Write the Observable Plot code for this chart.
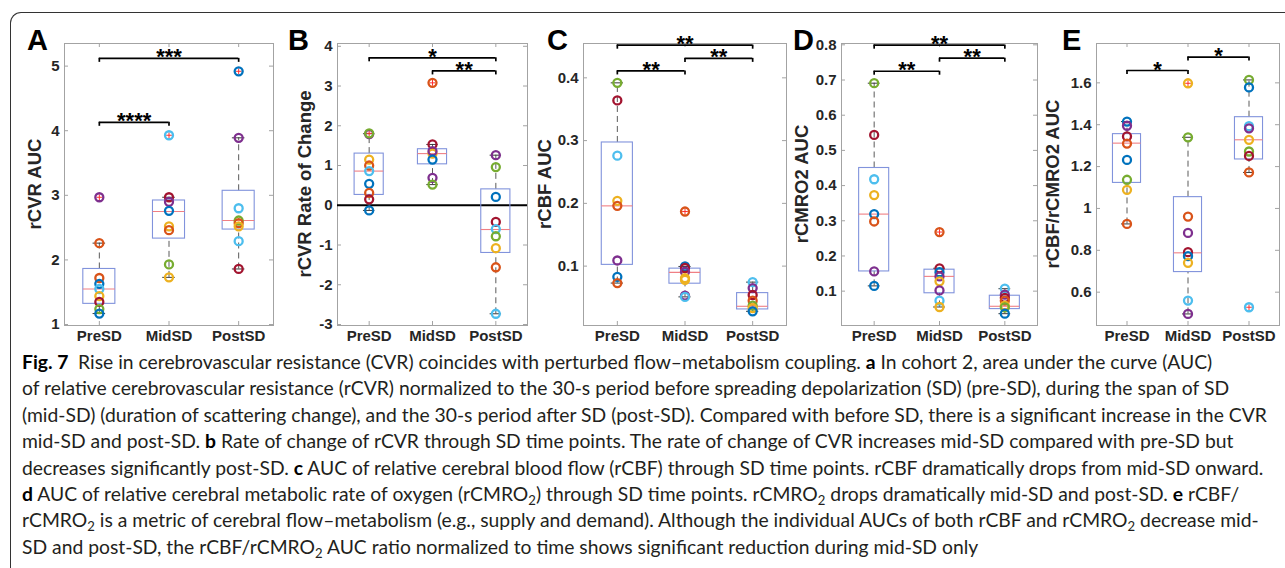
<!DOCTYPE html>
<html>
<head>
<meta charset="utf-8">
<script src="https://cdn.jsdelivr.net/npm/d3@7"></script>
<script src="https://cdn.jsdelivr.net/npm/@observablehq/plot@0.6"></script>
<style>
  html, body { margin: 0; padding: 0; background: #fff; }
  #root { position: relative; width: 1285px; height: 568px; overflow: hidden; background: #fff; }
  .border { position: absolute; left: 10px; top: 12px; width: 1400px; height: 700px;
            border-left: 1.4px solid #333; border-top: 1.4px solid #333; border-top-left-radius: 11px; }
  .panel { position: absolute; top: 0; }
  .letter { position: absolute; font: bold 29px "Liberation Sans", Arial, sans-serif; line-height: 29px; color: #000; }
  .ylab { position: absolute; font: bold 18.5px "Liberation Sans", Arial, sans-serif; white-space: nowrap;
          transform: translate(-50%, -50%) rotate(-90deg); color: #262626; line-height: 1; }
  #caption { position: absolute; left: 22px; top: 349px; font-family: Lato, "Open Sans", sans-serif;
             font-size: 17px; line-height: 26.4px; color: #231f20; white-space: nowrap; }
  #caption b { color: #000; }
  #caption sub { font-size: 0.68em; vertical-align: -0.28em; line-height: 0; }
</style>
</head>
<body>
<div id="root">
  <div class="border"></div>
  <div id="caption"></div>
</div>
<script>
// ---------- shared categories / tick labels ----------
const groups = ["PreSD", "MidSD", "PostSD"];
// subject colour keys (MATLAB default colour order)
const colorKeys = ["bl", "or", "ye", "pu", "gr", "cy", "dr"];
const colorHex = ["#0072BD", "#D95319", "#EDB120", "#7E2F8E", "#77AC30", "#4DBEEE", "#A2142F"];

// ---------- A: rCVR AUC ----------
const rcvrAucValues = [
  [2.97, 2.26, 1.72, 1.63, 1.55, 1.44, 1.35, 1.24, 1.17],
  [3.93, 2.97, 2.90, 2.76, 2.52, 2.46, 1.93, 1.73],
  [4.92, 3.89, 2.80, 2.61, 2.57, 2.52, 2.29, 1.86]
];
const rcvrAucColors = [
  ["pu", "or", "or", "bl", "cy", "ye", "dr", "gr", "bl"],
  ["cy", "dr", "pu", "bl", "ye", "or", "gr", "ye"],
  ["bl", "pu", "cy", "gr", "or", "ye", "cy", "dr"]
];
// [lower whisker, q1, median, q3, upper whisker]
const rcvrAucBox = [
  [1.17, 1.32, 1.55, 1.86, 2.26],
  [1.73, 2.33, 2.75, 2.92, 2.97],
  [1.86, 2.47, 2.61, 3.07, 3.89]
];
const rcvrAucSig = [[1, 2, 4.13, "****"], [1, 3, 5.12, "***"]];
const rcvrAucTicks = [1, 2, 3, 4, 5];

// ---------- B: rCVR Rate of Change ----------
const rcvrRateValues = [
  [1.79, 1.81, 1.15, 1.00, 0.86, 0.54, 0.31, 0.15, -0.13],
  [3.08, 1.53, 1.30, 1.36, 1.15, 0.69, 0.52],
  [1.26, 0.96, 0.21, -0.42, -0.60, -0.78, -1.08, -1.56, -2.73]
];
const rcvrRateColors = [
  ["pu", "gr", "ye", "or", "cy", "bl", "or", "dr", "bl"],
  ["or", "dr", "ye", "pu", "bl", "pu", "gr"],
  ["pu", "gr", "bl", "dr", "cy", "gr", "ye", "or", "cy"]
];
const rcvrRateBox = [
  [-0.13, 0.26, 0.86, 1.30, 1.80],
  [0.52, 1.03, 1.30, 1.41, 1.53],
  [-2.73, -1.20, -0.61, 0.40, 1.26]
];
const rcvrRateSig = [[1, 3, 3.71, "*"], [2, 3, 3.38, "**"]];
const rcvrRateTicks = [-3, -2, -1, 0, 1, 2, 3, 4];

// ---------- C: rCBF AUC ----------
const rcbfValues = [
  [0.392, 0.364, 0.276, 0.204, 0.196, 0.109, 0.083, 0.073],
  [0.187, 0.0995, 0.097, 0.091, 0.081, 0.078, 0.053, 0.051],
  [0.0745, 0.065, 0.054, 0.045, 0.037, 0.033, 0.028]
];
const rcbfColors = [
  ["gr", "dr", "cy", "ye", "or", "pu", "bl", "or"],
  ["or", "bl", "dr", "pu", "ye", "ye", "pu", "cy"],
  ["cy", "pu", "dr", "or", "gr", "ye", "bl"]
];
const rcbfBox = [
  [0.073, 0.102, 0.196, 0.297, 0.392],
  [0.051, 0.072, 0.090, 0.096, 0.0995],
  [0.028, 0.031, 0.036, 0.057, 0.0745]
];
const rcbfSig = [[1, 3, 0.452, "**"], [2, 3, 0.431, "**"], [1, 2, 0.411, "**"]];
const rcbfTicks = [0.1, 0.2, 0.3, 0.4];

// ---------- D: rCMRO2 AUC ----------
const rcmroValues = [
  [0.691, 0.544, 0.418, 0.373, 0.319, 0.298, 0.156, 0.115],
  [0.268, 0.165, 0.154, 0.142, 0.128, 0.102, 0.073, 0.055],
  [0.107, 0.090, 0.081, 0.073, 0.059, 0.054, 0.036]
];
const rcmroColors = [
  ["gr", "dr", "cy", "ye", "bl", "or", "pu", "bl"],
  ["or", "dr", "bl", "pu", "ye", "pu", "cy", "ye"],
  ["cy", "pu", "dr", "or", "ye", "gr", "bl"]
];
const rcmroBox = [
  [0.115, 0.156, 0.319, 0.450, 0.691],
  [0.055, 0.094, 0.142, 0.161, 0.165],
  [0.036, 0.049, 0.057, 0.087, 0.107]
];
const rcmroSig = [[1, 3, 0.799, "**"], [2, 3, 0.762, "**"], [1, 2, 0.725, "**"]];
const rcmroTicks = [0.1, 0.2, 0.3, 0.4, 0.5, 0.6, 0.7, 0.8];

// ---------- E: rCBF/rCMRO2 AUC ----------
const ratioValues = [
  [1.415, 1.395, 1.344, 1.310, 1.232, 1.137, 1.089, 0.926],
  [1.598, 1.340, 0.961, 0.883, 0.791, 0.772, 0.740, 0.560, 0.496],
  [1.614, 1.578, 1.393, 1.383, 1.328, 1.272, 1.251, 1.172, 0.528]
];
const ratioColors = [
  ["bl", "pu", "dr", "or", "bl", "gr", "ye", "or"],
  ["ye", "gr", "or", "pu", "dr", "bl", "ye", "cy", "pu"],
  ["gr", "bl", "cy", "pu", "ye", "gr", "dr", "or", "cy"]
];
const ratioBox = [
  [0.926, 1.122, 1.312, 1.355, 1.415],
  [0.496, 0.696, 0.788, 1.054, 1.340],
  [1.172, 1.234, 1.328, 1.436, 1.614]
];
const ratioSig = [[1, 2, 1.659, "*"], [2, 3, 1.723, "*"]];
const ratioTicks = [0.6, 0.8, 1, 1.2, 1.4, 1.6];

// ---------- caption lines ----------
const captionLines = [
  "<b>Fig. 7</b>&ensp;Rise in cerebrovascular resistance (CVR) coincides with perturbed flow–metabolism coupling. <b>a</b> In cohort 2, area under the curve (AUC)",
  "of relative cerebrovascular resistance (rCVR) normalized to the 30-s period before spreading depolarization (SD) (pre-SD), during the span of SD",
  "(mid-SD) (duration of scattering change), and the 30-s period after SD (post-SD). Compared with before SD, there is a significant increase in the CVR",
  "mid-SD and post-SD. <b>b</b> Rate of change of rCVR through SD time points. The rate of change of CVR increases mid-SD compared with pre-SD but",
  "decreases significantly post-SD. <b>c</b> AUC of relative cerebral blood flow (rCBF) through SD time points. rCBF dramatically drops from mid-SD onward.",
  "<b>d</b> AUC of relative cerebral metabolic rate of oxygen (rCMRO<sub>2</sub>) through SD time points. rCMRO<sub>2</sub> drops dramatically mid-SD and post-SD. <b>e</b> rCBF/",
  "rCMRO<sub>2</sub> is a metric of cerebral flow–metabolism (e.g., supply and demand). Although the individual AUCs of both rCBF and rCMRO<sub>2</sub> decrease mid-",
  "SD and post-SD, the rCBF/rCMRO<sub>2</sub> AUC ratio normalized to time shows significant reduction during mid-SD only"
];

// ---------- layout / style ----------
const panels = [
  {letter: "A", label: "rCVR AUC", values: rcvrAucValues, colors: rcvrAucColors, box: rcvrAucBox, sig: rcvrAucSig, ticks: rcvrAucTicks,
   domain: [0.985, 5.35], left: 64, w: 209, labelX: 35, letterX: 27},
  {letter: "B", label: "rCVR Rate of Change", values: rcvrRateValues, colors: rcvrRateColors, box: rcvrRateBox, sig: rcvrRateSig, ticks: rcvrRateTicks,
   domain: [-3.025, 4.07], left: 337, w: 190, labelX: 305, letterX: 288, zero: true},
  {letter: "C", label: "rCBF AUC", values: rcbfValues, colors: rcbfColors, box: rcbfBox, sig: rcbfSig, ticks: rcbfTicks,
   domain: [0.0054, 0.4547], left: 583, w: 203, labelX: 545, letterX: 547},
  {letter: "D", label: "rCMRO2 AUC", values: rcmroValues, colors: rcmroColors, box: rcmroBox, sig: rcmroSig, ticks: rcmroTicks,
   domain: [0.0024, 0.8038], left: 841, w: 196, labelX: 801.7, letterX: 793},
  {letter: "E", label: "rCBF/rCMRO2 AUC", values: ratioValues, colors: ratioColors, box: ratioBox, sig: ratioSig, ticks: ratioTicks,
   domain: [0.4408, 1.788], left: 1096, w: 183, labelX: 1053, letterX: 1062}
];

const MT = 43, MB = 30, ML = 40, MR = 5, FH = 282;
const boxHalf = 0.23, capHalf = 0.09, tickLen = 4;
const root = document.getElementById("root");

for (const p of panels) {
  const points = p.values.flatMap((arr, gi) => arr.map((v, k) => ({i: gi + 1, v, c: p.colors[gi][k]})));
  const boxes = p.box.map((b, gi) => ({i: gi + 1, lo: b[0], q1: b[1], med: b[2], q3: b[3], hi: b[4]}));
  // points beyond the whiskers are boxplot outliers (MATLAB draws a red "+")
  const outliers = points.filter(d => d.v > p.box[d.i - 1][4] + 1e-9 || d.v < p.box[d.i - 1][0] - 1e-9);
  const sig = p.sig.map(([a, b, y, label]) => ({a, b, y, label}));
  const ySpan = p.domain[1] - p.domain[0];
  const hook = tickLen * ySpan / FH;
  const frameStroke = "#a3a3a3";

  const marks = [
    Plot.frame({stroke: frameStroke}),
    // inward ticks on all four sides (MATLAB style)
    Plot.ruleY(p.ticks, {y: d => d, insetRight: p.w - tickLen, stroke: frameStroke}),
    Plot.ruleY(p.ticks, {y: d => d, insetLeft: p.w - tickLen, stroke: frameStroke}),
    Plot.ruleX([1, 2, 3], {x: d => d, insetTop: FH - tickLen, stroke: frameStroke}),
    Plot.ruleX([1, 2, 3], {x: d => d, insetBottom: FH - tickLen, stroke: frameStroke}),
  ];
  if (p.zero) marks.push(Plot.ruleY([0], {stroke: "#000", strokeWidth: 2.2}));
  marks.push(
    Plot.ruleX(boxes, {x: "i", y1: "q3", y2: "hi", stroke: "#5a5a5a", strokeDasharray: "6,4"}),
    Plot.ruleX(boxes, {x: "i", y1: "lo", y2: "q1", stroke: "#5a5a5a", strokeDasharray: "6,4"}),
    Plot.ruleY(boxes, {x1: d => d.i - capHalf, x2: d => d.i + capHalf, y: "hi", stroke: "#3a3a3a"}),
    Plot.ruleY(boxes, {x1: d => d.i - capHalf, x2: d => d.i + capHalf, y: "lo", stroke: "#3a3a3a"}),
    Plot.rect(boxes, {x1: d => d.i - boxHalf, x2: d => d.i + boxHalf, y1: "q1", y2: "q3", fill: "none", stroke: "#8193dc", strokeWidth: 1.1}),
    Plot.ruleY(boxes, {x1: d => d.i - boxHalf, x2: d => d.i + boxHalf, y: "med", stroke: "#f07f84", strokeWidth: 1.1}),
    Plot.dot(outliers, {x: "i", y: "v", symbol: "plus", r: 2, stroke: "#ff3030", strokeWidth: 1}),
    Plot.dot(points, {x: "i", y: "v", stroke: "c", r: 4, strokeWidth: 2.3, fill: "none"}),
    // significance brackets
    Plot.ruleY(sig, {x1: "a", x2: "b", y: "y", stroke: "#000", strokeWidth: 1.7}),
    Plot.ruleX(sig, {x: "a", y1: "y", y2: d => d.y - hook, stroke: "#000", strokeWidth: 1.7}),
    Plot.ruleX(sig, {x: "b", y1: "y", y2: d => d.y - hook, stroke: "#000", strokeWidth: 1.7}),
    Plot.text(sig, {x: d => (d.a + d.b) / 2, y: "y", text: "label", lineAnchor: "bottom", dy: 6,
                    fontSize: 22, fontWeight: "bold", fill: "#000"}),
    Plot.axisY(p.ticks, {tickSize: 0, tickPadding: 5, tickFormat: d => String(d), label: null}),
    Plot.axisX([1, 2, 3], {tickSize: 0, tickPadding: 5, tickFormat: i => groups[i - 1], label: null})
  );

  const chart = Plot.plot({
    width: ML + p.w + MR,
    height: MT + FH + MB,
    marginTop: MT, marginBottom: MB, marginLeft: ML, marginRight: MR,
    x: {type: "linear", domain: [0.5, 3.5]},
    y: {type: "linear", domain: p.domain},
    color: {type: "ordinal", domain: colorKeys, range: colorHex},
    style: {fontFamily: '"Liberation Sans", Arial, sans-serif', fontSize: "15px", fontWeight: "bold",
            color: "#262626", background: "transparent", overflow: "visible"},
    marks
  });
  const holder = document.createElement("div");
  holder.className = "panel";
  holder.style.left = (p.left - ML) + "px";
  holder.appendChild(chart);
  root.appendChild(holder);

  const lab = document.createElement("div");
  lab.className = "ylab";
  lab.textContent = p.label;
  lab.style.left = p.labelX + "px";
  lab.style.top = (MT + FH / 2) + "px";
  root.appendChild(lab);

  const let_ = document.createElement("div");
  let_.className = "letter";
  let_.textContent = p.letter;
  let_.style.left = p.letterX + "px";
  let_.style.top = "25.5px";
  root.appendChild(let_);
}

// caption
const cap = document.getElementById("caption");
cap.innerHTML = captionLines.map(s => `<span class="ln">${s}</span>`).join("<br>");
const ref = cap.querySelectorAll(".ln")[2];
const w = ref.getBoundingClientRect().width;
if (w > 0) cap.style.fontSize = (17 * 1246 / w).toFixed(2) + "px";
</script>
</body>
</html>
